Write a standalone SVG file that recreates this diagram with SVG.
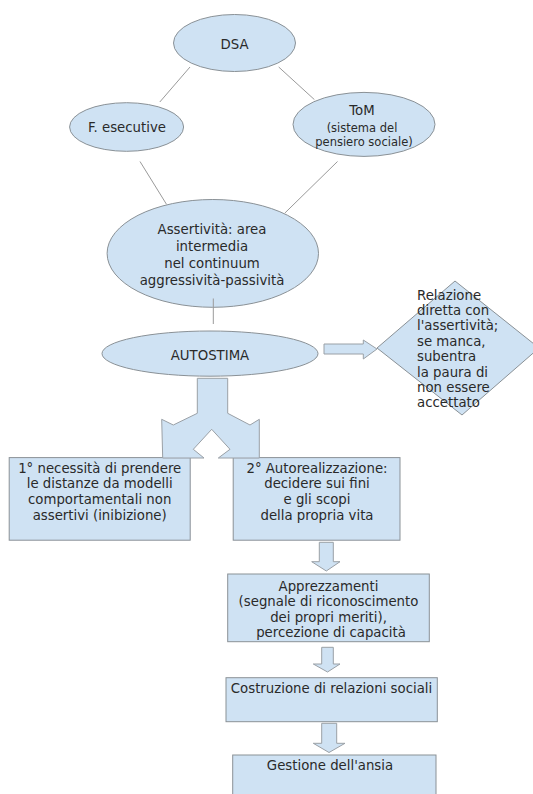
<svg xmlns="http://www.w3.org/2000/svg" width="533" height="794" viewBox="0 0 533 794">
<style>
.n{fill:#cfe2f3;stroke:#8a9196;stroke-width:1}
.c{stroke:#9a9a9a;stroke-width:1;fill:none}
.a{fill:#cfe2f3;stroke:#9aa0a6;stroke-width:1}
text{font-family:"DejaVu Sans","Liberation Sans",sans-serif;font-size:13.3px;fill:#2a2a2a}
.m{text-anchor:middle}
.s{font-size:11.5px}
</style>
<rect width="533" height="794" fill="#ffffff"/>
<g id="dsa"><ellipse class="n" cx="234.5" cy="43" rx="61" ry="28.5"/><text class="m" x="234.5" y="48.5">DSA</text></g>
<g id="fesecutive"><ellipse class="n" cx="126.6" cy="127" rx="57" ry="24.3"/><text class="m" x="127" y="132">F. esecutive</text></g>
<g id="tom"><ellipse class="n" cx="364" cy="124.4" rx="71" ry="32"/><text class="m" x="362" y="115">ToM</text><text class="m s" x="362" y="131.5">(sistema del</text><text class="m s" x="364" y="145.5">pensiero sociale)</text></g>
<g id="assertivita"><ellipse class="n" cx="212.8" cy="253.4" rx="105.7" ry="53.9"/><text class="m" x="212" y="234">Assertività: area</text><text class="m" x="212" y="251">intermedia</text><text class="m" x="212" y="268">nel continuum</text><text class="m" x="212" y="285">aggressività-passività</text></g>
<g id="autostima"><ellipse class="n" cx="210" cy="353.6" rx="108" ry="22.6"/><text class="m" x="210" y="359.5">AUTOSTIMA</text></g>
<g id="relazione"><polygon class="n" points="377,348 455,281 539,348 462,415"/><text x="417" y="299.5">Relazione</text><text x="417" y="314.9">diretta con</text><text x="417" y="330.3">l'assertività;</text><text x="417" y="345.7">se manca,</text><text x="417" y="361.1">subentra</text><text x="417" y="376.5">la paura di</text><text x="417" y="391.9">non essere</text><text x="417" y="407.3">accettato</text></g>
<g id="necessita"><rect class="n" x="9.2" y="457.6" width="181" height="82.6"/><text class="m" x="99.7" y="472.5">1° necessità di prendere</text><text class="m" x="99.7" y="488.3">le distanze da modelli</text><text class="m" x="99.7" y="504.1">comportamentali non</text><text class="m" x="99.7" y="519.9">assertivi (inibizione)</text></g>
<g id="autorealizzazione"><rect class="n" x="233.2" y="457.6" width="166.8" height="82.6"/><text class="m" x="317" y="472.5">2° Autorealizzazione:</text><text class="m" x="317" y="488.3">decidere sui fini</text><text class="m" x="317" y="504.1">e gli scopi</text><text class="m" x="317" y="519.9">della propria vita</text></g>
<g id="apprezzamenti"><rect class="n" x="227.7" y="574" width="201.6" height="67.7"/><text class="m" x="328.5" y="590.5">Apprezzamenti</text><text class="m" x="328.5" y="606">(segnale di riconoscimento</text><text class="m" x="328.5" y="621.5">dei propri meriti),</text><text class="m" x="331" y="636.5">percezione di capacità</text></g>
<g id="costruzione"><rect class="n" x="226" y="677.7" width="211.3" height="44"/><text class="m" x="331.5" y="693">Costruzione di relazioni sociali</text></g>
<g id="gestione"><rect class="n" x="232.7" y="755" width="203.3" height="50"/><text class="m" x="330" y="769.5">Gestione dell'ansia</text></g>
<g id="connectors">
<line class="c" x1="190" y1="67" x2="159.8" y2="102"/>
<line class="c" x1="278.7" y1="67" x2="314.4" y2="99.6"/>
<line class="c" x1="140" y1="161.5" x2="166.5" y2="204.3"/>
<line class="c" x1="337.5" y1="161.5" x2="284.8" y2="213.1"/>
<line class="c" x1="213.3" y1="298.5" x2="213.3" y2="324"/>
<polygon class="a" points="324,344 363.3,344 363.3,340 377,349 363.3,359 363.3,354 324,354"/>
<polygon class="a" points="197.3,378.3 227.7,378.3 227.7,413.3 250,425 259.3,419.3 259.3,458 218.3,458 230,449.3 211.7,429.3 193.3,449.3 204,458 162.7,458 161.7,419.3 173.3,425 197.3,413.3"/>
<polygon class="a" points="319.3,542.3 333.3,542.3 333.3,561.7 340,561.7 326.3,571 311.7,561.7 319.3,561.7"/>
<polygon class="a" points="321.7,647.3 333.3,647.3 333.3,664 340,664 327.5,672 313.3,664 321.7,664"/>
<polygon class="a" points="321.7,723.3 336.7,723.3 336.7,743.3 345,743.3 329,752.5 313.3,743.3 321.7,743.3"/>
</g>
</svg>
